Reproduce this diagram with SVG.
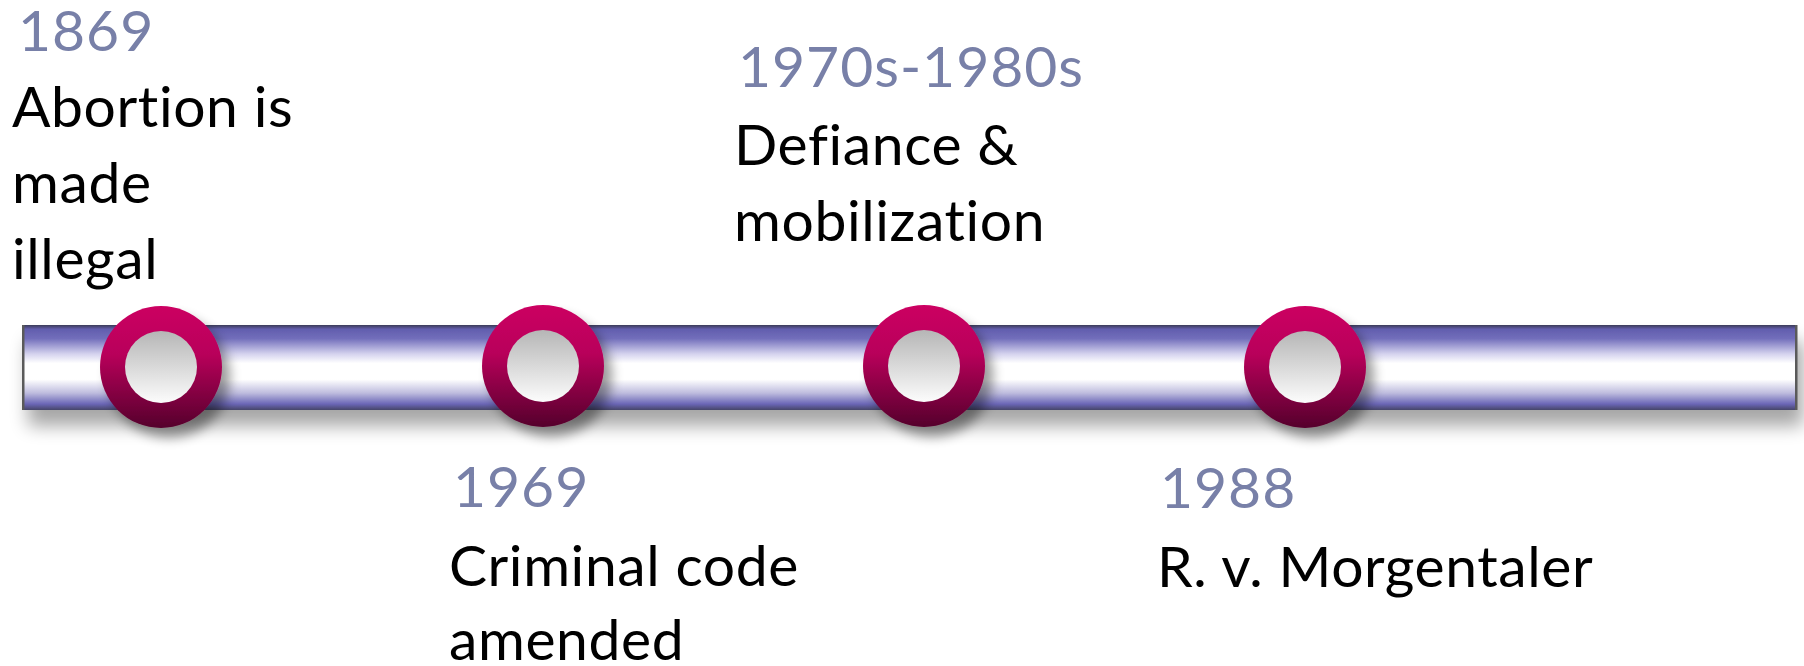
<svg xmlns="http://www.w3.org/2000/svg" width="1804" height="666" viewBox="0 0 1804 666">
  <style>
    .date { font-family: "Lato", "Liberation Sans", sans-serif; font-size: 57px; letter-spacing: 1px; fill: #7880a8; font-variant-ligatures: none; }
    .label { font-family: "Lato", "Liberation Sans", sans-serif; font-size: 57px; letter-spacing: 0.6px; fill: #000000; font-variant-ligatures: none; }
  </style>
  <defs>
    <linearGradient id="barGrad" x1="0" y1="0" x2="0" y2="1">
      <stop offset="0" stop-color="#3c3b58"/>
      <stop offset="0.05" stop-color="#625eae"/>
      <stop offset="0.16" stop-color="#726ebb"/>
      <stop offset="0.34" stop-color="#d4d2ee"/>
      <stop offset="0.45" stop-color="#ffffff"/>
      <stop offset="0.64" stop-color="#ffffff"/>
      <stop offset="0.8" stop-color="#bebcde"/>
      <stop offset="0.93" stop-color="#6a66b6"/>
      <stop offset="1" stop-color="#474668"/>
    </linearGradient>
    <linearGradient id="ringGrad" x1="0" y1="0" x2="0" y2="1">
      <stop offset="0" stop-color="#cc0062"/>
      <stop offset="0.4" stop-color="#b8005a"/>
      <stop offset="1" stop-color="#55002c"/>
    </linearGradient>
    <linearGradient id="holeGrad" x1="0" y1="0" x2="0" y2="1">
      <stop offset="0" stop-color="#b6b6b6"/>
      <stop offset="1" stop-color="#fcfcfc"/>
    </linearGradient>
    <filter id="barShadow" x="-5%" y="-50%" width="110%" height="200%">
      <feGaussianBlur in="SourceAlpha" stdDeviation="9"/>
      <feOffset dx="6" dy="16" result="b"/>
      <feComponentTransfer><feFuncA type="linear" slope="0.35"/></feComponentTransfer>
      <feMerge><feMergeNode/><feMergeNode in="SourceGraphic"/></feMerge>
    </filter>
    <filter id="ringShadow" x="-40%" y="-40%" width="180%" height="180%">
      <feGaussianBlur in="SourceAlpha" stdDeviation="6"/>
      <feOffset dx="8" dy="10" result="b"/>
      <feComponentTransfer><feFuncA type="linear" slope="0.4"/></feComponentTransfer>
      <feMerge><feMergeNode/><feMergeNode in="SourceGraphic"/></feMerge>
    </filter>
    <g id="marker">
      <circle r="61" fill="url(#ringGrad)"/>
      <circle r="36" fill="url(#holeGrad)"/>
    </g>
  </defs>
  <rect width="1804" height="666" fill="#ffffff"/>

  <g id="timeline-bar">
    <rect x="22" y="325" width="1775" height="85" fill="url(#barGrad)" filter="url(#barShadow)"/>
    <rect x="22" y="325" width="2.5" height="85" fill="#5a5a5a"/>
    <rect x="1795" y="325" width="2.5" height="85" fill="#5a5a5a"/>
  </g>

  <g id="connectors"></g>

  <g id="node-1869">
    <use href="#marker" x="161" y="367" filter="url(#ringShadow)"/>
    <text class="date" x="18" y="51">1869</text>
    <text class="label" x="12" y="127">Abortion is</text>
    <text class="label" x="12" y="203">made</text>
    <text class="label" x="12" y="279">illegal</text>
  </g>

  <g id="node-1969">
    <use href="#marker" x="543" y="366" filter="url(#ringShadow)"/>
    <text class="date" x="453" y="507">1969</text>
    <text class="label" x="449" y="586">Criminal code</text>
    <text class="label" x="449" y="660">amended</text>
  </g>

  <g id="node-1970s">
    <use href="#marker" x="924" y="366" filter="url(#ringShadow)"/>
    <text class="date" x="738" y="87">1970s-1980s</text>
    <text class="label" x="734" y="165">Defiance &amp;</text>
    <text class="label" x="734" y="241">mobilization</text>
  </g>

  <g id="node-1988">
    <use href="#marker" x="1305" y="367" filter="url(#ringShadow)"/>
    <text class="date" x="1160" y="508">1988</text>
    <text class="label" x="1157" y="587">R. v. Morgentaler</text>
  </g>
</svg>
